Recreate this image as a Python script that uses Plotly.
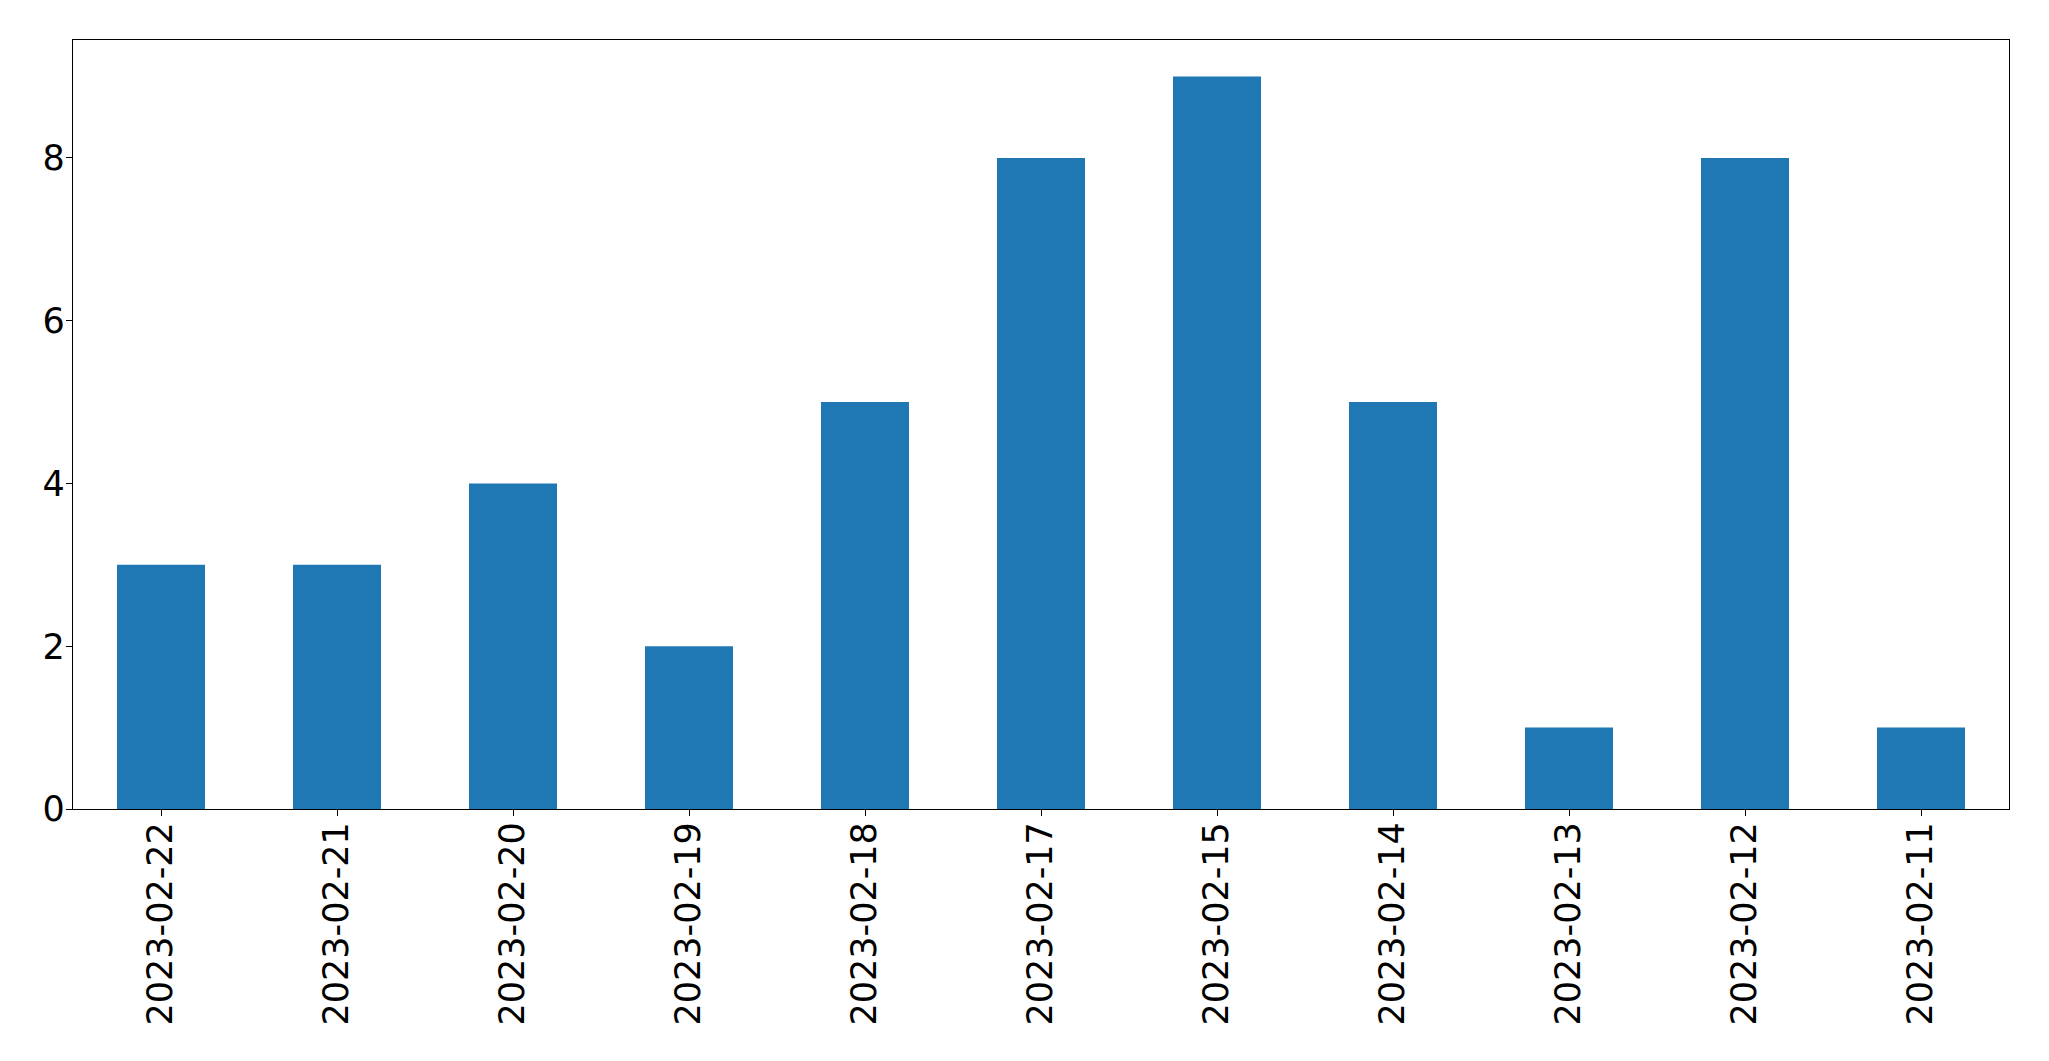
import plotly.graph_objects as go

dates = ["2023-02-22", "2023-02-21", "2023-02-20", "2023-02-19", "2023-02-18",
         "2023-02-17", "2023-02-15", "2023-02-14", "2023-02-13", "2023-02-12", "2023-02-11"]
counts = [3, 3, 4, 2, 5, 8, 9, 5, 1, 8, 1]
y_ticks = [0, 2, 4, 6, 8]

fig = go.Figure(go.Bar(x=dates, y=counts, marker=dict(color="#1f77b4", line=dict(width=0))))

fig.update_layout(
    width=2049, height=1061,
    margin=dict(l=64.5, r=48, t=31.5, b=260, autoexpand=False),
    paper_bgcolor="white", plot_bgcolor="white",
    bargap=0.5, showlegend=False,
    font=dict(family="DejaVu Sans", size=35, color="black"),
)
fig.update_xaxes(
    type="category", range=[-0.5, len(dates) - 0.5], tickangle=-90,
    showline=True, linecolor="black", linewidth=1.3, mirror=True,
    ticks="outside", ticklen=6, tickwidth=1.3, tickcolor="black",
    showgrid=False, zeroline=False, tickfont=dict(size=35),
    ticklabelstandoff=-8, automargin=False,
)
fig.update_yaxes(
    range=[0, 9.45], tickvals=y_ticks,
    showline=True, linecolor="black", linewidth=1.3, mirror=True,
    ticks="outside", ticklen=6, tickwidth=1.3, tickcolor="black",
    showgrid=False, zeroline=False, tickfont=dict(size=35),
    ticklabelstandoff=-6, automargin=False,
)

fig.write_html("out.html")
